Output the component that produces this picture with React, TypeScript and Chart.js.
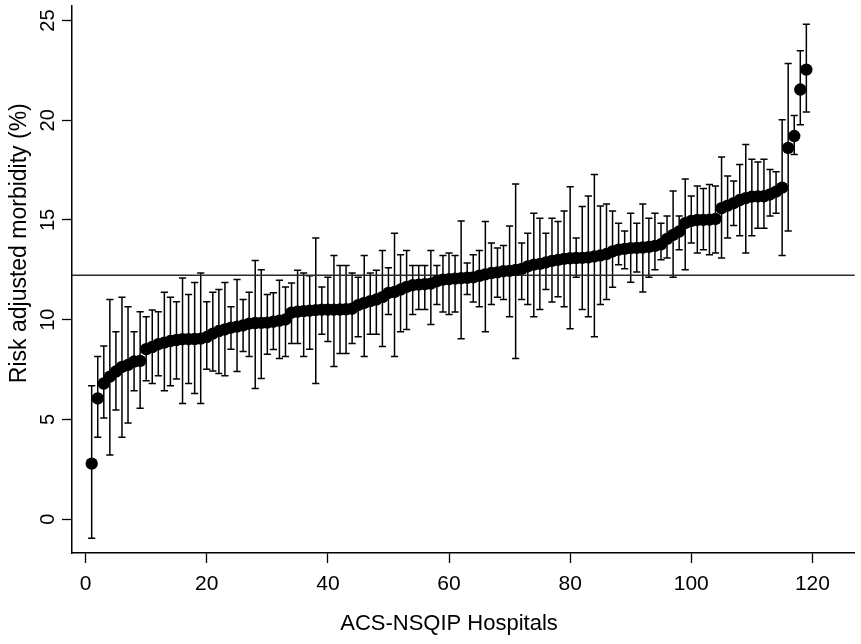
import React, { useEffect, useRef } from "react";
import { Chart, registerables } from "chart.js";

Chart.register(...registerables);

// Risk adjusted morbidity (%) per hospital, ranked
const rates = [
  2.78, 6.05, 6.8, 7.14, 7.4, 7.63, 7.73, 7.9, 7.93, 8.52,
  8.63, 8.77, 8.85, 8.93, 8.98, 9.02, 9.02, 9.03, 9.05, 9.13,
  9.3, 9.43, 9.51, 9.6, 9.65, 9.71, 9.8, 9.83, 9.84, 9.85,
  9.9, 9.95, 10.01, 10.35, 10.4, 10.43, 10.45, 10.48, 10.5, 10.5,
  10.5, 10.51, 10.52, 10.55, 10.73, 10.84, 10.93, 11.01, 11.13, 11.34,
  11.39, 11.51, 11.64, 11.73, 11.76, 11.78, 11.81, 11.93, 12.01, 12.03,
  12.06, 12.08, 12.1, 12.12, 12.2, 12.27, 12.34, 12.37, 12.43, 12.45,
  12.5, 12.55, 12.67, 12.76, 12.8, 12.87, 12.95, 13.0, 13.05, 13.08,
  13.09, 13.1, 13.12, 13.17, 13.22, 13.29, 13.42, 13.51, 13.55, 13.59,
  13.6, 13.62, 13.65, 13.7, 13.78, 14.05, 14.25, 14.42, 14.84, 14.95,
  15.0, 15.0, 15.02, 15.05, 15.59, 15.72, 15.84, 16.0, 16.09, 16.17,
  16.18, 16.19, 16.28, 16.42, 16.62, 18.61, 19.21, 21.54, 22.54,
];

const lowerCI = [
  -0.96, 4.11, 5.07, 3.21, 5.47, 4.11, 4.82, 6.44, 5.56, 6.94,
  6.8, 7.19, 6.44, 6.69, 7.02, 5.8, 6.8, 6.3, 5.8, 7.52,
  7.43, 7.3, 7.19, 8.52, 7.4, 8.4, 8.15, 6.55, 7.05, 8.27,
  8.5, 8.05, 8.15, 8.8, 8.8, 8.15, 8.52, 6.8, 9.27, 8.9,
  7.65, 8.3, 8.3, 8.8, 9.15, 8.15, 9.27, 9.27, 8.65, 10.26,
  8.15, 9.4, 9.51, 10.26, 10.51, 10.51, 9.76, 10.76, 10.38, 10.26,
  10.38, 9.05, 11.26, 10.89, 10.65, 9.4, 10.76, 11.13, 11.01, 10.15,
  8.05, 11.01, 10.76, 10.15, 10.51, 11.51, 10.89, 11.15, 10.65, 9.55,
  12.13, 10.51, 10.15, 9.15, 10.76, 11.01, 11.63, 12.76, 12.56, 11.88,
  12.39, 11.39, 12.13, 12.51, 13.01, 13.09, 12.13, 13.51, 12.51, 13.84,
  13.34, 13.51, 13.26, 13.34, 13.09, 14.09, 14.72, 14.21, 13.34, 14.21,
  14.59, 14.59, 15.2, 15.34, 13.22, 14.45, 18.28, 19.78, 20.41,
];

const upperCI = [
  6.69, 8.15, 8.68, 11.01, 9.4, 11.13, 10.65, 9.4, 10.4, 10.15,
  10.48, 10.4, 11.38, 11.13, 10.9, 12.09, 11.26, 11.86, 12.34, 10.9,
  11.38, 11.51, 11.86, 10.65, 12.01, 11.01, 11.38, 12.97, 12.51, 11.26,
  11.35, 11.98, 11.64, 11.84, 12.48, 12.34, 12.2, 14.09, 11.64, 12.13,
  13.22, 12.72, 12.72, 12.34, 12.13, 13.22, 12.34, 12.48, 13.47, 12.6,
  14.34, 13.26, 13.47, 12.72, 12.72, 12.72, 13.47, 12.72, 13.22, 13.34,
  13.22, 14.95, 12.84, 13.26, 13.47, 14.92, 13.84, 13.59, 13.72, 14.7,
  16.8, 13.84, 14.34, 15.34, 15.09, 14.34, 15.09, 14.92, 15.45, 16.67,
  14.09, 15.67, 16.2, 17.28, 15.7, 15.8, 15.45, 14.84, 14.45, 15.34,
  14.84, 15.8, 15.09, 15.34, 14.84, 15.2, 16.45, 15.2, 17.05, 16.2,
  16.7, 16.58, 16.78, 16.7, 18.16, 17.2, 16.95, 17.78, 18.78, 18.05,
  17.91, 18.05, 17.53, 17.42, 20.03, 22.85, 20.24, 23.49, 24.82,
];

const referenceRate = 12.23;
const xTickValues = [0, 20, 40, 60, 80, 100, 120];
const yTickValues = [0, 5, 10, 15, 20, 25];
const xTitle = "ACS-NSQIP Hospitals";
const yTitle = "Risk adjusted morbidity (%)";

const X_MIN = -2.25;
const X_MAX = 127;
const Y_MIN = -1.7;
const Y_MAX = 25.72;
const FONT = "'Liberation Sans', Arial, Helvetica, sans-serif";

const errorBars = {
  id: "errorBars",
  beforeDatasetsDraw(chart: any) {
    const { ctx, chartArea, scales } = chart;
    const x = scales.x;
    const y = scales.y;
    ctx.save();
    ctx.beginPath();
    ctx.rect(chartArea.left, chartArea.top, chartArea.right - chartArea.left, chartArea.bottom - chartArea.top);
    ctx.clip();
    ctx.strokeStyle = "#000";
    ctx.lineWidth = 1.5;
    ctx.beginPath();
    rates.forEach((_, i) => {
      const px = x.getPixelForValue(i + 1);
      const lo = y.getPixelForValue(lowerCI[i]);
      const hi = y.getPixelForValue(upperCI[i]);
      ctx.moveTo(px, lo);
      ctx.lineTo(px, hi);
      ctx.moveTo(px - 3.6, lo);
      ctx.lineTo(px + 3.6, lo);
      ctx.moveTo(px - 3.6, hi);
      ctx.lineTo(px + 3.6, hi);
    });
    ctx.stroke();
    ctx.restore();
  },
};

const axisTitles = {
  id: "axisTitles",
  afterDraw(chart: any) {
    const { ctx, chartArea, scales } = chart;
    ctx.save();
    ctx.fillStyle = "#000";
    ctx.textAlign = "center";
    ctx.textBaseline = "alphabetic";
    ctx.font = `22px ${FONT}`;
    ctx.fillText(xTitle, scales.x.getPixelForValue(60), chartArea.bottom + 77);
    ctx.translate(26, chartArea.top + 237);
    ctx.rotate(-Math.PI / 2);
    ctx.font = `23px ${FONT}`;
    ctx.fillText(yTitle, 0, 0);
    ctx.restore();
  },
};

export default function App() {
  const canvasRef = useRef<HTMLCanvasElement | null>(null);

  useEffect(() => {
    const canvas = canvasRef.current;
    if (!canvas) return;
    const points = rates.map((v, i) => ({ x: i + 1, y: v }));
    const chart = new Chart(canvas, {
      type: "scatter",
      data: {
        datasets: [
          {
            type: "line",
            label: "Overall",
            data: [
              { x: X_MIN, y: referenceRate },
              { x: X_MAX, y: referenceRate },
            ],
            borderColor: "#2a2a2a",
            borderWidth: 1.4,
            pointRadius: 0,
            fill: false,
            order: 2,
          } as any,
          {
            type: "scatter",
            label: "Hospitals",
            data: points,
            backgroundColor: "#000",
            borderColor: "#000",
            borderWidth: 0,
            pointRadius: 6.2,
            pointHoverRadius: 6.2,
            order: 1,
          },
        ],
      },
      options: {
        responsive: false,
        animation: false,
        events: [],
        layout: { padding: { top: 4, right: 0, bottom: 0, left: 0 } },
        plugins: {
          legend: { display: false },
          tooltip: { enabled: false },
          title: { display: false },
        },
        scales: {
          x: {
            type: "linear",
            min: X_MIN,
            max: X_MAX,
            afterBuildTicks: (scale: any) => {
              scale.ticks = xTickValues.map((v) => ({ value: v }));
            },
            afterFit: (scale: any) => {
              scale.height = 91;
              scale.paddingLeft = 0;
              scale.paddingRight = 0;
            },
            grid: {
              display: true,
              drawOnChartArea: false,
              drawTicks: true,
              tickLength: 10,
              tickWidth: 1.3,
              tickColor: "#000",
            },
            border: { display: true, color: "#000", width: 1.5 },
            ticks: {
              color: "#000",
              font: { family: FONT, size: 21 },
              padding: 9,
              maxRotation: 0,
              minRotation: 0,
              autoSkip: false,
            },
            title: { display: false },
          },
          y: {
            type: "linear",
            min: Y_MIN,
            max: Y_MAX,
            afterBuildTicks: (scale: any) => {
              scale.ticks = yTickValues.map((v) => ({ value: v }));
            },
            afterFit: (scale: any) => {
              scale.width = 72;
              scale.paddingTop = 0;
              scale.paddingBottom = 0;
            },
            grid: {
              display: true,
              drawOnChartArea: false,
              drawTicks: true,
              tickLength: 10,
              tickWidth: 1.3,
              tickColor: "#000",
            },
            border: { display: true, color: "#000", width: 1.5 },
            ticks: {
              color: "#000",
              font: { family: FONT, size: 20 },
              padding: 2,
              minRotation: 90,
              maxRotation: 90,
              crossAlign: "center",
              autoSkip: false,
            },
            title: { display: false },
          },
        },
      },
      plugins: [errorBars, axisTitles],
    });
    return () => chart.destroy();
  }, []);

  return (
    <div style={{ position: "fixed", left: 0, top: 0, width: 861, height: 644, background: "#fff" }}>
      <canvas ref={canvasRef} width={861} height={644} style={{ display: "block", width: 861, height: 644 }} />
    </div>
  );
}
